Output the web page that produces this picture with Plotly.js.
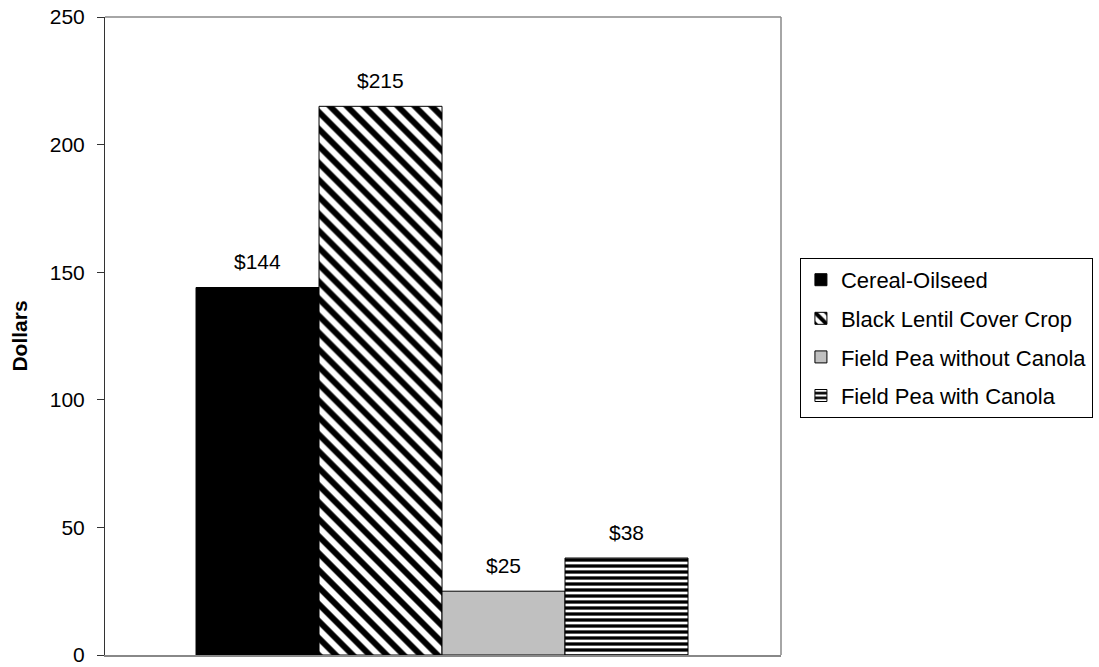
<!DOCTYPE html>
<html>
<head>
<meta charset="utf-8">
<script src="https://cdn.plot.ly/plotly-3.0.1.min.js"></script>
<style>html,body{margin:0;padding:0;background:#fff;}#chart{width:1099px;height:667px;}</style>
</head>
<body>
<div id="chart"></div>
<script>
const seriesNames = ["Cereal-Oilseed", "Black Lentil Cover Crop", "Field Pea without Canola", "Field Pea with Canola"];
const seriesValues = [144, 215, 25, 38];
const valueLabels = ["$144", "$215", "$25", "$38"];
const positions = [0, 1, 2, 3];
const yTicks = [0, 50, 100, 150, 200, 250];

const styles = [
  {color: "#000000", pattern: {shape: ""}},
  {color: "#ffffff", pattern: {shape: "\\", fgcolor: "#000000", bgcolor: "#ffffff", fgopacity: 1, size: 12, solidity: 0.5, fillmode: "replace"}},
  {color: "#c0c0c0", pattern: {shape: ""}},
  {color: "#ffffff", pattern: {shape: "-", fgcolor: "#000000", bgcolor: "#ffffff", fgopacity: 1, size: 6, solidity: 0.55, fillmode: "replace"}}
];

const traces = seriesNames.map((name, i) => ({
  type: "bar",
  name: name,
  x: [positions[i]],
  y: [seriesValues[i]],
  width: 1,
  legendgroup: "g" + i,
  marker: {color: styles[i].color, pattern: styles[i].pattern, line: {color: "#000000", width: 1}},
  hoverinfo: "none"
}));

const annotations = seriesNames.map((name, i) => ({
  x: positions[i], y: seriesValues[i], xref: "x", yref: "y",
  text: valueLabels[i], showarrow: false,
  yanchor: "middle", yshift: 26,
  font: {family: "Liberation Sans, Arial, sans-serif", size: 21, color: "#000000"}
}));

const layout = {
  width: 1099, height: 667,
  margin: {l: 105, r: 318, t: 17, b: 12, pad: 0, autoexpand: false},
  paper_bgcolor: "#ffffff", plot_bgcolor: "#ffffff",
  font: {family: "Liberation Sans, Arial, sans-serif", size: 21, color: "#000000"},
  showlegend: true,
  barmode: "overlay",
  xaxis: {range: [-1.24, 4.256], showticklabels: false, ticks: "", showgrid: false, zeroline: false,
          showline: true, linecolor: "#888888", linewidth: 1.5, fixedrange: true},
  yaxis: {range: [0, 250], tickvals: yTicks, ticktext: yTicks.map(String), ticks: "outside", ticklen: 7,
          tickcolor: "#333333", tickwidth: 1, showgrid: false, zeroline: false, ticklabeloverflow: "allow",
          showline: true, linecolor: "#333333", linewidth: 1, ticklabelstandoff: 8,
          tickfont: {size: 21},
          title: {text: "<b>Dollars</b>", font: {size: 21}, standoff: 16}},
  shapes: [
    {type: "line", xref: "paper", yref: "paper", x0: 0, x1: 1, y0: 1, y1: 1, line: {color: "#888888", width: 1.5}},
    {type: "line", xref: "paper", yref: "paper", x0: 1, x1: 1, y0: 0, y1: 1, line: {color: "#888888", width: 1.5}}
  ],
  legend: {x: 1.028, xanchor: "left", y: 0.497, yanchor: "middle", bordercolor: "#000000", borderwidth: 1,
           bgcolor: "#ffffff", font: {size: 22}, traceorder: "grouped", tracegroupgap: 7, itemclick: false,
           itemwidth: 30},
  annotations: annotations
};

Plotly.newPlot("chart", traces, layout, {displayModeBar: false, staticPlot: true});
</script>
</body>
</html>
